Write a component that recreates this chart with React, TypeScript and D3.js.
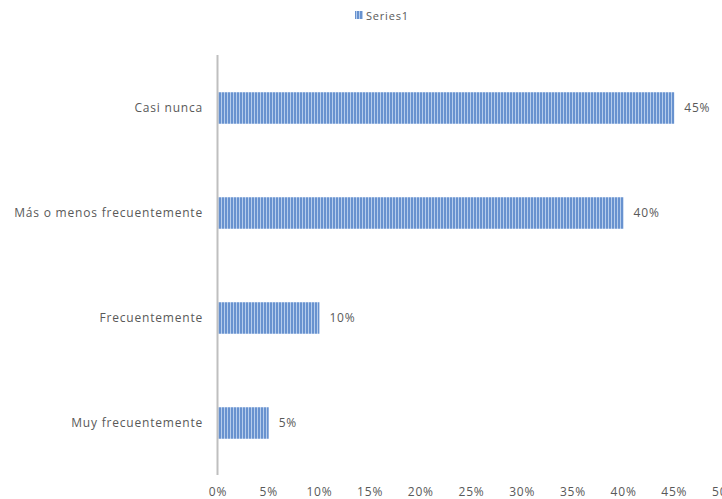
import React, { useEffect, useRef } from "react";
import * as d3 from "d3";

const categories = [
  "Casi nunca",
  "Más o menos frecuentemente",
  "Frecuentemente",
  "Muy frecuentemente",
];
const values = [0.45, 0.4, 0.1, 0.05];
const ticks = [0, 0.05, 0.1, 0.15, 0.2, 0.25, 0.3, 0.35, 0.4, 0.45, 0.5];
const seriesName = "Series1";

const WIDTH = 722;
const HEIGHT = 499;
const FONT = "Open Sans, sans-serif";
const TEXT = "#595959";
const LS = "0.8px";

export default function App() {
  const svgRef = useRef<SVGSVGElement | null>(null);

  useEffect(() => {
    const svg = d3.select(svgRef.current);
    svg.selectAll("*").remove();

    const defs = svg.append("defs");
    const pat = defs
      .append("pattern")
      .attr("id", "stripes")
      .attr("patternUnits", "userSpaceOnUse")
      .attr("width", 3)
      .attr("height", 10);
    pat.append("rect").attr("width", 3).attr("height", 10).attr("fill", "#6892cf");
    pat.append("rect").attr("x", 2).attr("width", 1).attr("height", 10).attr("fill", "#b6cdec");

    const x = d3.scaleLinear().domain([0, 0.5]).range([218, 725]);
    const y = d3
      .scaleBand()
      .domain(categories)
      .range([55.5, 475.5])
      .paddingInner(0.7)
      .paddingOuter(0.35);

    const txt = (sel: d3.Selection<any, any, any, any>) =>
      sel
        .attr("font-family", FONT)
        .attr("font-size", 12)
        .attr("letter-spacing", LS)
        .attr("fill", TEXT);

    // legend
    const lg = svg.append("g");
    lg.append("rect")
      .attr("x", 355)
      .attr("y", 11)
      .attr("width", 8)
      .attr("height", 8)
      .attr("fill", "url(#stripes)");
    lg.append("text")
      .attr("x", 366)
      .attr("y", 19.5)
      .call(txt)
      .attr("font-size", 11)
      .text(seriesName);

    // bars
    svg
      .append("g")
      .selectAll("rect")
      .data(values)
      .join("rect")
      .attr("x", x(0))
      .attr("y", (_, i) => y(categories[i])!)
      .attr("width", (d) => x(d) - x(0))
      .attr("height", y.bandwidth())
      .attr("fill", "url(#stripes)");

    // value labels
    svg
      .append("g")
      .selectAll("text")
      .data(values)
      .join("text")
      .attr("x", (d) => x(d) + 10)
      .attr("y", (_, i) => y(categories[i])! + y.bandwidth() / 2)
      .attr("dy", "0.35em")
      .call(txt)
      .text((d) => d3.format(".0%")(d));

    // category axis
    svg
      .append("line")
      .attr("x1", x(0) - 0.5)
      .attr("x2", x(0) - 0.5)
      .attr("y1", 55)
      .attr("y2", 475)
      .attr("stroke", "#bfbfbf")
      .attr("stroke-width", 2);

    svg
      .append("g")
      .selectAll("text")
      .data(categories)
      .join("text")
      .attr("x", x(0) - 15)
      .attr("y", (d) => y(d)! + y.bandwidth() / 2)
      .attr("dy", "0.35em")
      .attr("text-anchor", "end")
      .call(txt)
      .text((d) => d);

    // value axis labels
    svg
      .append("g")
      .selectAll("text")
      .data(ticks)
      .join("text")
      .attr("x", (d) => x(d))
      .attr("y", 496)
      .attr("text-anchor", "middle")
      .call(txt)
      .text((d) => d3.format(".0%")(d));
  }, []);

  return (
    <svg
      ref={svgRef}
      width={WIDTH}
      height={HEIGHT}
      style={{ position: "absolute", left: 0, top: 0, background: "#fff" }}
    />
  );
}
